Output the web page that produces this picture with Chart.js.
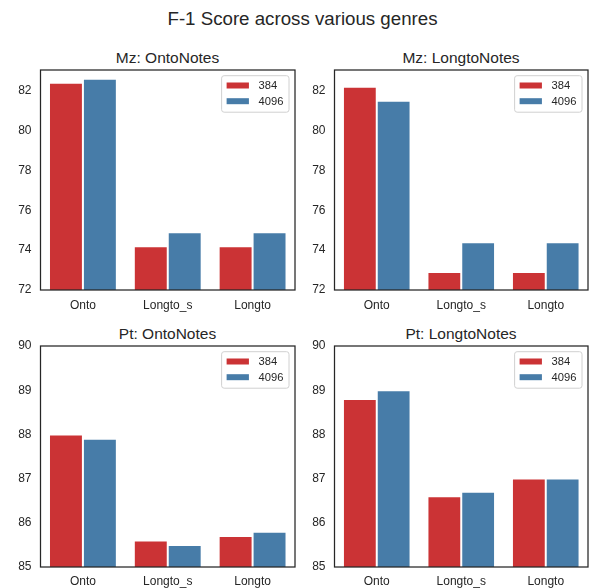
<!DOCTYPE html>
<html>
<head>
<meta charset="utf-8">
<script src="https://cdn.jsdelivr.net/npm/chart.js@4.4.0/dist/chart.umd.min.js"></script>
<style>
  html, body { margin: 0; padding: 0; background: #ffffff; }
  body { width: 589px; height: 588px; position: relative; overflow: hidden; font-family: "Liberation Sans", Arial, sans-serif; color: #262626; }
  .box { position: absolute; }
  .ttl { position: absolute; text-align: center; white-space: nowrap; color: #262626; }
</style>
</head>
<body>
<div class="ttl" id="mainTitle" style="left:8px;width:589px;top:7px;font-size:18.7px;line-height:24px;">F-1 Score across various genres</div>
<div class="ttl" style="left:40px;width:255px;top:48px;font-size:15.5px;line-height:20px;">Mz: OntoNotes</div>
<div class="ttl" style="left:334px;width:254px;top:48px;font-size:15.5px;line-height:20px;">Mz: LongtoNotes</div>
<div class="ttl" style="left:40px;width:255px;top:324px;font-size:15.5px;line-height:20px;">Pt: OntoNotes</div>
<div class="ttl" style="left:334px;width:254px;top:324px;font-size:15.5px;line-height:20px;">Pt: LongtoNotes</div>
<div class="box" style="left:0px;top:62px;width:300px;height:258px;"><canvas id="c1"></canvas></div>
<div class="box" style="left:294px;top:62px;width:295px;height:258px;"><canvas id="c2"></canvas></div>
<div class="box" style="left:0px;top:338px;width:300px;height:250px;"><canvas id="c3"></canvas></div>
<div class="box" style="left:294px;top:338px;width:295px;height:250px;"><canvas id="c4"></canvas></div>
<script>
// ---- Data ----
const categories = ['Onto', 'Longto_s', 'Longto'];
const seriesLabels = ['384', '4096'];
const seriesColors = ['#cb3335', '#477ca8'];

const mzOnto384 = [82.4, 74.2, 74.2];
const mzOnto4096 = [82.6, 74.9, 74.9];
const mzLongto384 = [82.2, 72.9, 72.9];
const mzLongto4096 = [81.5, 74.4, 74.4];
const ptOnto384 = [88.0, 85.6, 85.7];
const ptOnto4096 = [87.9, 85.5, 85.8];
const ptLongto384 = [88.8, 86.6, 87.0];
const ptLongto4096 = [89.0, 86.7, 87.0];

const mzTicks = [72, 74, 76, 78, 80, 82];
const ptTicks = [85, 86, 87, 88, 89, 90];
const mzRange = [72, 83.04];
const ptRange = [85, 90];

const FONT = '"Liberation Sans", Arial, sans-serif';
const TXT = '#262626';

// Frame around the plot area (matplotlib-style spines)
const framePlugin = {
  id: 'frame',
  afterDraw(chart) {
    const a = chart.chartArea, ctx = chart.ctx;
    ctx.save();
    ctx.strokeStyle = '#262626';
    ctx.lineWidth = 1.25;
    ctx.strokeRect(a.left, a.top, a.right - a.left, a.bottom - a.top);
    ctx.restore();
  }
};

// In-axes legend, upper right, built from the datasets
const innerLegend = {
  id: 'innerLegend',
  afterDatasetsDraw(chart) {
    const a = chart.chartArea, ctx = chart.ctx;
    const ds = chart.data.datasets;
    ctx.save();
    ctx.font = '11.2px ' + FONT;
    let tw = 0;
    ds.forEach(d => { tw = Math.max(tw, ctx.measureText(d.label).width); });
    const w = 37 + tw + 5.5, h = 36.5;
    const x = a.right - 6 - w, y = a.top + 5.7;
    ctx.beginPath();
    ctx.roundRect(x, y, w, h, 2.5);
    ctx.fillStyle = 'rgba(255,255,255,0.85)';
    ctx.fill();
    ctx.strokeStyle = '#d0d0d0';
    ctx.lineWidth = 1;
    ctx.stroke();
    ds.forEach((d, i) => {
      const cy = y + 9.8 + i * 15.7;
      ctx.fillStyle = d.backgroundColor;
      ctx.fillRect(x + 5, cy - 3, 22.3, 6);
      ctx.fillStyle = TXT;
      ctx.textBaseline = 'middle';
      ctx.textAlign = 'left';
      ctx.fillText(d.label, x + 37, cy + 0.5);
    });
    ctx.restore();
  }
};

function makeChart(id, s1, s2, range, ticks, padRight, xh, xpad) {
  return new Chart(document.getElementById(id), {
    type: 'bar',
    data: {
      labels: categories,
      datasets: [
        { label: seriesLabels[0], data: s1, backgroundColor: seriesColors[0] },
        { label: seriesLabels[1], data: s2, backgroundColor: seriesColors[1] }
      ]
    },
    options: {
      responsive: true,
      maintainAspectRatio: false,
      animation: false,
      devicePixelRatio: 1,
      layout: { padding: { top: 8, right: padRight, left: 0, bottom: 0 } },
      datasets: {
        bar: {
          categoryPercentage: 0.8,
          barPercentage: 1.0,
          borderWidth: 1,
          borderColor: 'rgba(255,255,255,0.5)',
          borderSkipped: 'start'
        }
      },
      plugins: {
        legend: { display: false },
        title: { display: false },
        tooltip: { enabled: false }
      },
      scales: {
        x: {
          grid: { display: false, drawTicks: false },
          border: { display: false },
          ticks: { color: TXT, font: { family: FONT, size: 12 }, padding: xpad, maxRotation: 0, autoSkip: false },
          afterFit(s) { s.height = xh; s.paddingLeft = 0; s.paddingRight = 0; }
        },
        y: {
          min: range[0],
          max: range[1],
          grid: { display: false, drawTicks: false },
          border: { display: false },
          ticks: { color: TXT, font: { family: FONT, size: 12 }, padding: 9 },
          afterBuildTicks(s) { s.ticks = ticks.map(v => ({ value: v })); },
          afterFit(s) { s.width = 40.5; s.paddingTop = 0; s.paddingBottom = 0; }
        }
      }
    },
    plugins: [framePlugin, innerLegend]
  });
}

makeChart('c1', mzOnto384, mzOnto4096, mzRange, mzTicks, 5, 30, 8);
makeChart('c2', mzLongto384, mzLongto4096, mzRange, mzTicks, 1, 30, 8);
makeChart('c3', ptOnto384, ptOnto4096, ptRange, ptTicks, 5, 21, 7);
makeChart('c4', ptLongto384, ptLongto4096, ptRange, ptTicks, 1, 21, 7);
</script>
</body>
</html>
